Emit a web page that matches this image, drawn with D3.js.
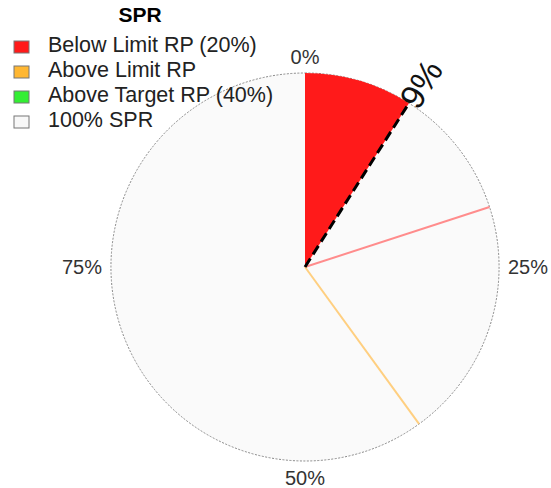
<!DOCTYPE html>
<html>
<head>
<meta charset="utf-8">
<script src="https://cdn.jsdelivr.net/npm/d3@7"></script>
<style>
  body { margin: 0; background: #fff; }
  svg { display: block; font-family: "Liberation Sans", Arial, sans-serif; }
</style>
</head>
<body>
<svg id="chart" width="551" height="488"></svg>
<script>
// values (percent of full circle)
const SPR_VALUE = 9;
const LIMIT_RP = 20;
const TARGET_RP = 40;
const TICKS = [0, 25, 50, 75];

const LEGEND_LABELS = ["Below Limit RP (20%)", "Above Limit RP", "Above Target RP (40%)", "100% SPR"];
const LEGEND_COLORS = ["#ff1a1a", "#ffb732", "#33ee33", "#f8f8f8"];

const SVG = d3.select("#chart");
const CX = 305, CY = 267, R = 194;

const angle = d3.scaleLinear().domain([0, 100]).range([0, 2 * Math.PI]);
const arc = d3.arc().innerRadius(0).outerRadius(R);

const g = SVG.append("g").attr("transform", `translate(${CX},${CY})`);

// background disc
g.append("path")
    .attr("d", arc({ startAngle: 0, endAngle: 2 * Math.PI }))
    .attr("fill", "#fafafa")
    .attr("stroke", "#888")
    .attr("stroke-width", 1)
    .attr("stroke-dasharray", "2,1.5");

// spr wedge
g.append("path")
    .attr("d", arc({ startAngle: angle(0), endAngle: angle(SPR_VALUE) }))
    .attr("fill", LEGEND_COLORS[0]);

const pt = (v, r) => [Math.sin(angle(v)) * r, -Math.cos(angle(v)) * r];

// limit / target reference lines
[[LIMIT_RP, "#ff8c8c"], [TARGET_RP, "#ffcf80"]].forEach(([v, c]) => {
    const [x, y] = pt(v, R);
    g.append("line")
        .attr("x1", 0).attr("y1", 0)
        .attr("x2", x).attr("y2", y)
        .attr("stroke", c)
        .attr("stroke-width", 2);
});

// dashed spr line
const [sx, sy] = pt(SPR_VALUE, R);
g.append("line")
    .attr("x1", 0).attr("y1", 0)
    .attr("x2", sx).attr("y2", sy)
    .attr("stroke", "#000")
    .attr("stroke-width", 3)
    .attr("stroke-dasharray", "10,5");

// spr value label, rotated along the radius
const [lx, ly] = pt(SPR_VALUE, R - 2);
g.append("text")
    .attr("transform", `translate(${lx},${ly}) rotate(${angle(SPR_VALUE) * 180 / Math.PI - 90})`)
    .attr("font-size", 34)
    .attr("fill", "#111")
    .attr("dy", "0.35em")
    .text(SPR_VALUE + "%");

// tick labels around the rim
TICKS.forEach(t => {
    const [x, y] = pt(t, R + 9);
    const s = Math.sin(angle(t)), c = Math.cos(angle(t));
    g.append("text")
        .attr("x", x).attr("y", y)
        .attr("font-size", 20)
        .attr("fill", "#333")
        .attr("text-anchor", s > 0.1 ? "start" : s < -0.1 ? "end" : "middle")
        .attr("dy", c > 0.1 ? "0" : c < -0.1 ? "0.75em" : "0.35em")
        .text(t + "%");
});

// legend
SVG.append("text")
    .attr("x", 140).attr("y", 22)
    .attr("text-anchor", "middle")
    .attr("font-size", 21)
    .attr("font-weight", "bold")
    .text("SPR");

const legend = SVG.append("g").selectAll("g")
    .data(LEGEND_LABELS)
    .join("g")
    .attr("transform", (d, i) => `translate(14,${41 + i * 25})`);

legend.append("rect")
    .attr("width", 15).attr("height", 12)
    .attr("fill", (d, i) => LEGEND_COLORS[i])
    .attr("stroke", "#777")
    .attr("stroke-width", 1);

legend.append("text")
    .attr("x", 34).attr("y", 11)
    .attr("font-size", 21.5)
    .attr("fill", "#222")
    .text(d => d);
</script>
</body>
</html>
